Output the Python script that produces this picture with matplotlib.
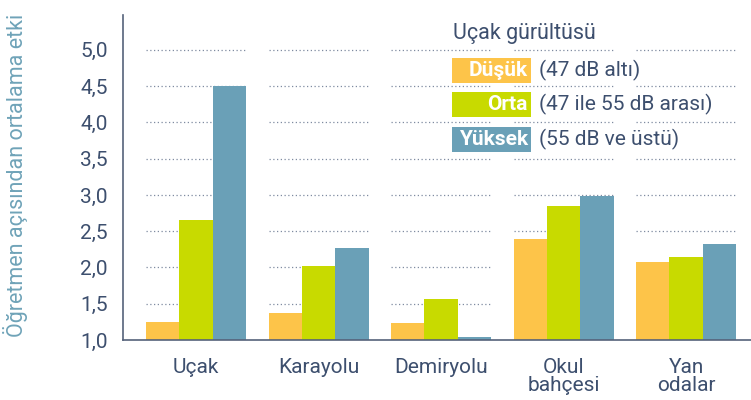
import numpy as np
import matplotlib
matplotlib.use("Agg")
import matplotlib.pyplot as plt
from matplotlib.patches import Rectangle

# data
categories = ["Uçak", "Karayolu", "Demiryolu", "Okul\nbahçesi", "Yan\nodalar"]
dusuk = [1.25, 1.37, 1.23, 2.39, 2.08]
orta = [2.66, 2.02, 1.57, 2.85, 2.14]
yuksek = [4.50, 2.27, 1.04, 2.99, 2.32]
series_names = ["Düşük", "Orta", "Yüksek"]
series_notes = ["(47 dB altı)", "(47 ile 55 dB arası)", "(55 dB ve üstü)"]
yticks = [1.0, 1.5, 2.0, 2.5, 3.0, 3.5, 4.0, 4.5, 5.0]
ytick_labels = ["1,0", "1,5", "2,0", "2,5", "3,0", "3,5", "4,0", "4,5", "5,0"]

colors = ["#FDC449", "#C8DA00", "#6AA0B7"]
text_col = "#3D4F6E"
axis_col = "#55627A"
ylab_col = "#6FA3B8"

plt.rcParams["font.family"] = ["Roboto", "DejaVu Sans"]

fig = plt.figure(figsize=(7.51, 4.0), dpi=100)
ax = fig.add_axes([123 / 751, 60 / 400, 1 - 123 / 751, 325 / 400])

x = np.arange(len(categories))
w = 0.272
for i, vals in enumerate([dusuk, orta, yuksek]):
    ax.bar(x + (i - 1) * w, np.array(vals) - 1.0, w, bottom=1.0,
           color=colors[i], zorder=2, linewidth=0)

# dotted grid only across each group's span
for yv in yticks[1:]:
    for xc in x:
        ax.plot([xc - 1.5 * w, xc + 1.5 * w], [yv, yv], ls=(0, (1, 2)),
                color="#7F8BA0", lw=0.9, zorder=1)

ax.set_xlim(-0.596, 4.53)
ax.set_ylim(1.0, 5.48)
ax.set_yticks(yticks)
ax.set_yticklabels(ytick_labels, fontsize=15, color=text_col)
ax.set_xticks(x)
ax.set_xticklabels(categories, fontsize=15, color=text_col, linespacing=0.95)
ax.tick_params(length=0)
ax.tick_params(axis="y", pad=11)
ax.tick_params(axis="x", pad=13)
for s in ["top", "right"]:
    ax.spines[s].set_visible(False)
for s in ["left", "bottom"]:
    ax.spines[s].set_color(axis_col)
    ax.spines[s].set_linewidth(1.2)

fig.text(16 / 751, 1 - 175 / 400, "Öğretmen açısından ortalama etki",
         rotation=90, ha="center", va="center", fontsize=15.5, color=ylab_col)

# legend
fig.text(453 / 751, 1 - 33 / 400, "Uçak gürültüsü", fontsize=15.5,
         color=text_col, ha="left", va="center")
box_tops = [58, 92, 127]
for name, note, c, top in zip(series_names, series_notes, colors, box_tops):
    fig.patches.append(Rectangle((452 / 751, 1 - (top + 25) / 400), 79 / 751, 25 / 400,
                                 transform=fig.transFigure, color=c, lw=0))
    fig.text(528 / 751, 1 - (top + 12.5) / 400, name, fontsize=15, color="white",
             fontweight="bold", ha="right", va="center")
    fig.text(539 / 751, 1 - (top + 12.5) / 400, note, fontsize=15, color=text_col,
             ha="left", va="center")

fig.savefig("out.png", dpi=100)
